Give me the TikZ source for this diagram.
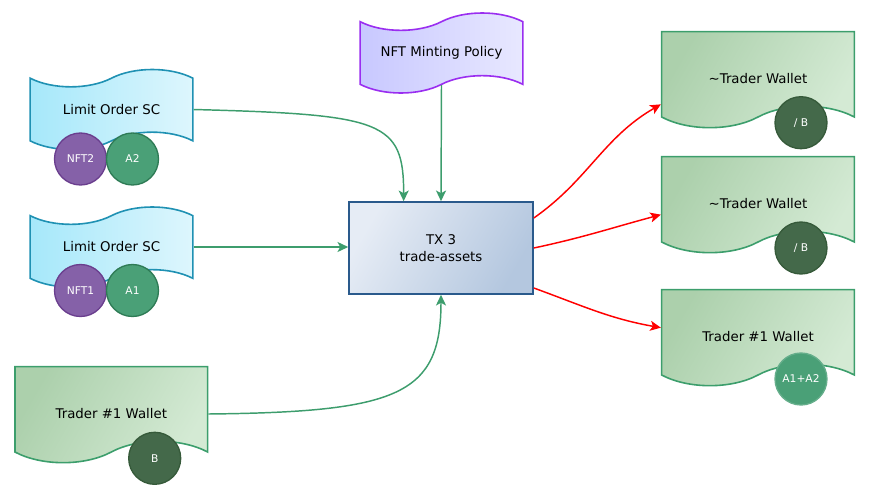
\documentclass[tikz,border=0pt]{standalone}
\usepackage{fontspec}
\setmainfont{DejaVu Sans}
\usetikzlibrary{arrows.meta,shapes.symbols}

\definecolor{scline}{HTML}{1F91B3}
\definecolor{scleft}{HTML}{A6E8FA}
\definecolor{scright}{HTML}{DDF6FD}
\definecolor{mpline}{HTML}{9A2EF0}
\definecolor{mpleft}{HTML}{C8C8FF}
\definecolor{mpright}{HTML}{E8E8FF}
\definecolor{wline}{HTML}{3C9E6C}
\definecolor{wleft}{HTML}{ACD0AC}
\definecolor{wright}{HTML}{D4EAD4}
\definecolor{txline}{HTML}{2A5A8C}
\definecolor{txleft}{HTML}{E6ECF5}
\definecolor{txright}{HTML}{B4C7DF}
\definecolor{nftfill}{HTML}{8561A8}
\definecolor{nftline}{HTML}{6A3E8E}
\definecolor{adafill}{HTML}{4AA077}
\definecolor{adaline}{HTML}{2E7B55}
\definecolor{bfill}{HTML}{44694A}
\definecolor{bline}{HTML}{365A3A}
\definecolor{feedgreen}{HTML}{3D9D6D}

\tikzset{
  script/.style={tape, draw=scline, line width=1.2pt, left color=scleft, right color=scright,
    minimum width=122pt, minimum height=60pt, tape bend height=13pt, inner sep=0pt,
    font=\fontsize{10}{12}\selectfont},
  policy/.style={script, draw=mpline, left color=mpleft, right color=mpright},
  wallet/.style={tape, tape bend top=none, draw=wline, line width=1.2pt, left color=wleft, right color=wright,
    shading angle=60, minimum width=144.5pt, minimum height=72pt, tape bend height=16pt, inner sep=0pt,
    text height=22.2pt, text depth=0pt, font=\fontsize{10}{12}\selectfont},
  txbox/.style={rectangle, draw=txline, line width=1.2pt, left color=txleft, right color=txright,
    shading angle=60, minimum width=138pt, minimum height=69pt, align=center,
    font=\fontsize{10}{12.5}\selectfont},
  token/.style={circle, line width=1pt, minimum size=39pt, inner sep=0pt, text=white,
    font=\fontsize{8}{9}\selectfont},
  nft/.style={token, draw=nftline, fill=nftfill},
  ada/.style={token, draw=adaline, fill=adafill},
  coin/.style={token, draw=bline, fill=bfill},
  feed/.style={draw=feedgreen, line width=1.1pt, -{Stealth[length=8pt,width=7.5pt,inset=2pt]}},
  payout/.style={draw=red, line width=1.1pt, -{Stealth[length=8pt,width=7.5pt,inset=2pt]}}
}

\begin{document}
\begin{tikzpicture}[x=0.75pt,y=0.75pt]
\useasboundingbox (0,0) rectangle (869,-497);

\node[script] (lo1) at (111.5,-109.5) {Limit Order SC};
\node[script] (lo2) at (111.5,-247) {Limit Order SC};
\node[policy] (mint) at (441.5,-53) {NFT Minting Policy};
\node[wallet] (tw) at (111.3,-404) {Trader \#1 Wallet};
\node[txbox] (tx) at (441,-248) {TX 3\\trade-assets};
\node[wallet] (w1) at (758,-69) {\textasciitilde Trader Wallet};
\node[wallet] (w2) at (758,-194) {\textasciitilde Trader Wallet};
\node[wallet] (w3) at (758,-327) {Trader \#1 Wallet};

\node[nft] (nft2) at (80.5,-159) {NFT2};
\node[ada] (a2) at (132.5,-159) {A2};
\node[nft] (nft1) at (80.5,-290.5) {NFT1};
\node[ada] (a1) at (132.5,-290.5) {A1};
\node[coin] (b) at (154.7,-458.3) {B};
\node[coin] (b1) at (801,-122.7) {/ B};
\node[coin] (b2) at (801,-248) {/ B};
\node[ada, draw=adafill!85!white] (a12) at (801,-379) {A1+A2};

\draw[feed] (lo1.east) .. controls +(190,-5) and +(0,80) .. ([xshift=-28pt]tx.north);
\draw[feed] (mint.south) -- (tx.north);
\draw[feed] (lo2.east) -- (lo2.east -| tx.west);
\draw[feed] ([yshift=-7.5pt]tw.east) .. controls +(190,2) and +(0,-100) .. (tx.south);

\draw[payout] ([yshift=22.5pt]tx.east) to[out=35,in=210] ([yshift=-26.5pt]w1.west);
\draw[payout] (tx.east) to[out=12,in=195] ([yshift=-15.5pt]w2.west);
\draw[payout] ([yshift=-30pt]tx.east) to[out=-20,in=170] ([yshift=-0.5pt]w3.west);
\end{tikzpicture}
\end{document}
